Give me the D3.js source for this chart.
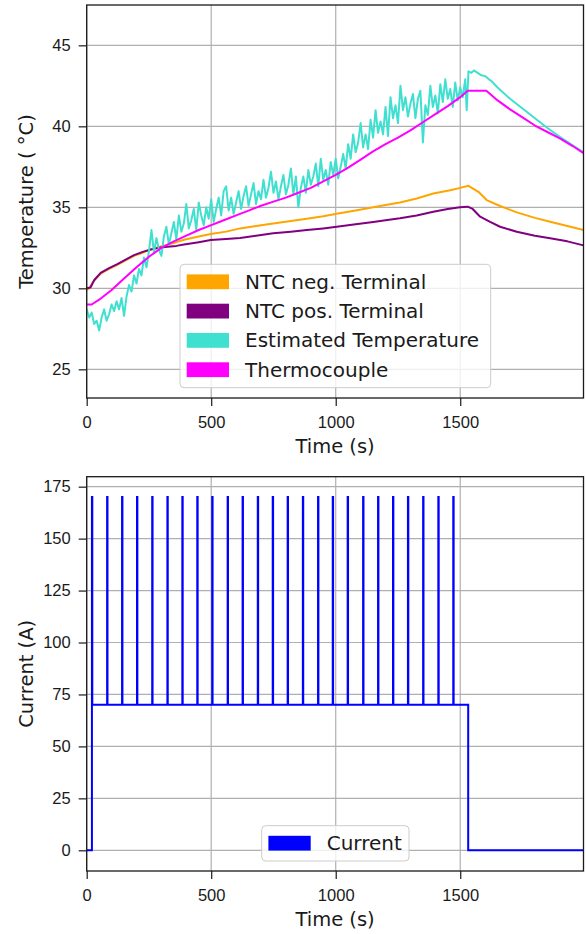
<!DOCTYPE html>
<html>
<head>
<meta charset="utf-8">
<script src="https://cdn.jsdelivr.net/npm/d3@7"></script>
<style>
body { margin: 0; background: #fff; }
svg { display: block; font-family: "DejaVu Sans", sans-serif; }
</style>
</head>
<body>
<div id="chart"></div>
<script>
// ---------- data ----------
const timeTicks = [0, 500, 1000, 1500];
const tempTicks = [25, 30, 35, 40, 45];
const currentTicks = [0, 25, 50, 75, 100, 125, 150, 175];

// [time (s), temperature (°C)]
const ntcNeg = [[0,29.9],[10,30.0],[30,30.5],[56,30.9],[90,31.2],[123,31.45],[160,31.75],[190,32.0],[225,32.2],[257,32.4],
  [290,32.55],[324,32.7],[360,32.85],[391,33.0],[450,33.2],[498,33.35],[560,33.5],[616,33.7],[680,33.85],[749,34.0],
  [820,34.15],[884,34.3],[950,34.45],[1004,34.6],[1080,34.8],[1151,35.0],[1200,35.15],[1258,35.3],[1325,35.55],
  [1392,35.85],[1460,36.05],[1500,36.2],[1533,36.33],[1573,35.96],[1606,35.45],[1660,35.08],[1727,34.69],
  [1800,34.35],[1861,34.11],[1930,33.85],[1995,33.6]];

const ntcPos = [[0,30.0],[15,30.05],[30,30.5],[56,30.95],[90,31.25],[123,31.5],[160,31.8],[190,32.05],[225,32.25],[257,32.4],
  [290,32.5],[324,32.57],[360,32.62],[391,32.7],[450,32.85],[498,32.98],[560,33.05],[616,33.1],[680,33.25],[749,33.4],
  [820,33.5],[884,33.6],[950,33.7],[1004,33.8],[1080,33.95],[1151,34.1],[1200,34.2],[1258,34.32],[1325,34.5],
  [1392,34.73],[1450,34.9],[1499,35.0],[1530,35.04],[1550,34.9],[1580,34.42],[1620,34.1],[1660,33.8],[1727,33.49],
  [1800,33.25],[1861,33.09],[1930,32.9],[1995,32.65]];

const estimated = [[0,28.7],[10,28.2],[20,28.5],[30,27.8],[40,28.0],[50,27.4],[60,28.2],[70,28.7],[80,28.0],[90,28.4],
  [100,29.0],[110,28.6],[120,29.2],[130,28.7],[140,29.4],[150,28.3],[160,29.5],[170,30.2],[180,29.8],[190,30.8],
  [200,30.3],[210,31.2],[220,30.8],[230,31.9],[240,31.3],[250,32.3],[260,33.6],[270,32.2],[280,33.1],[290,32.4],
  [300,32.0],[310,33.2],[320,33.8],[330,32.7],[340,33.4],[350,34.1],[360,33.0],[370,34.5],[380,33.5],[390,34.0],
  [400,35.2],[410,33.7],[420,34.2],[430,34.9],[440,33.6],[450,35.3],[460,34.5],[470,33.9],[480,35.0],[490,34.3],
  [500,35.5],[510,34.1],[520,34.9],[530,35.6],[540,34.5],[550,36.0],[560,36.3],[570,34.8],[580,35.6],[590,34.6],
  [600,35.3],[610,36.0],[620,34.9],[630,35.7],[640,36.3],[650,35.1],[660,35.8],[670,36.5],[680,35.2],[690,36.0],
  [700,35.5],[710,36.7],[720,35.6],[730,36.2],[740,37.2],[750,35.9],[760,36.6],[770,35.5],[780,36.3],[790,37.0],
  [800,35.8],[810,36.4],[820,37.4],[830,35.8],[840,36.9],[850,35.0],[860,36.2],[870,36.9],[880,35.9],[890,37.3],
  [900,36.4],[910,36.9],[920,37.7],[930,36.3],[940,38.0],[950,36.7],[960,37.3],[970,36.4],[980,37.8],[990,37.0],
  [1000,38.0],[1010,36.8],[1020,37.5],[1030,38.3],[1040,37.4],[1050,38.9],[1060,38.0],[1070,39.5],[1080,38.4],[1090,39.0],
  [1100,40.2],[1110,38.7],[1120,39.5],[1130,38.6],[1140,40.4],[1150,39.3],[1160,41.0],[1170,39.6],[1180,40.3],[1190,39.5],
  [1200,41.2],[1210,39.4],[1220,41.8],[1230,40.5],[1240,41.3],[1250,40.2],[1260,42.5],[1270,41.0],[1280,41.8],[1290,40.6],
  [1300,41.4],[1310,42.0],[1320,40.5],[1330,41.7],[1340,42.2],[1350,39.0],[1360,41.3],[1370,40.7],[1380,42.5],[1390,41.2],
  [1400,41.9],[1410,40.8],[1420,42.6],[1430,41.5],[1440,42.9],[1450,41.7],[1460,42.3],[1470,41.2],[1480,42.7],[1490,41.6],
  [1500,42.4],[1510,41.8],[1520,42.9],[1526,41.0],[1533,43.4],[1545,43.3],[1555,43.45],[1570,43.3],[1585,43.15],
  [1600,43.1],[1615,42.9],[1625,42.8],[1650,42.4],[1700,41.7],[1750,41.1],[1800,40.5],[1850,39.9],[1900,39.35],
  [1950,38.85],[1995,38.4]];

const thermocouple = [[0,29.0],[20,29.0],[50,29.3],[100,29.9],[150,30.6],[200,31.3],[250,31.95],[300,32.5],[350,32.9],
  [400,33.25],[450,33.6],[500,33.9],[550,34.2],[600,34.5],[650,34.8],[700,35.1],[750,35.35],[800,35.6],[850,35.9],
  [900,36.2],[950,36.6],[1000,37.0],[1050,37.45],[1100,37.95],[1150,38.45],[1200,38.9],[1250,39.3],[1300,39.75],
  [1350,40.25],[1400,40.75],[1450,41.25],[1500,41.8],[1530,42.2],[1605,42.2],[1650,41.6],[1700,41.05],[1750,40.55],
  [1800,40.05],[1850,39.65],[1900,39.25],[1950,38.8],[1995,38.35]];

// current profile: 70 A base with 170 A pulses
const currentStart = 21, currentStop = 1532, timeEnd = 1995;
const baseCurrent = 70, pulseCurrent = 170, pulseWidth = 1.5;
const pulseTimes = [21, 82, 142, 202, 263, 324, 384, 444, 504, 566, 626, 687, 747, 807, 868,
  929, 988, 1048, 1110, 1170, 1230, 1290, 1351, 1412, 1472];

const tempSeries = [
  {name: "NTC neg. Terminal", color: "#ffa500", values: ntcNeg},
  {name: "NTC pos. Terminal", color: "#800080", values: ntcPos},
  {name: "Estimated Temperature", color: "#40e0d0", values: estimated},
  {name: "Thermocouple", color: "#ff00ff", values: thermocouple}
];

const currentData = [[0, 0], [currentStart, 0]];
pulseTimes.forEach(p => {
  currentData.push([p, baseCurrent], [p, pulseCurrent], [p + pulseWidth, pulseCurrent], [p + pulseWidth, baseCurrent]);
});
currentData.push([currentStop, baseCurrent], [currentStop, 0], [timeEnd, 0]);

// ---------- drawing ----------
const svg = d3.select("#chart").append("svg")
  .attr("width", 586)
  .attr("height", 934);

const ink = "#1a1a1a";

function panel({id, top, bottom, left, right, xDomain, yDomain, xTicks, yTicks, yLabel}) {
  const x = d3.scaleLinear().domain(xDomain).range([left, right]);
  const y = d3.scaleLinear().domain(yDomain).range([bottom, top]);
  const g = svg.append("g");

  g.append("clipPath").attr("id", id)
    .append("rect")
    .attr("x", left).attr("y", top)
    .attr("width", right - left).attr("height", bottom - top);

  // grid
  g.append("g").selectAll("line").data(xTicks).join("line")
    .attr("x1", d => x(d)).attr("x2", d => x(d))
    .attr("y1", top).attr("y2", bottom)
    .attr("stroke", "#b0b0b0").attr("stroke-width", 1.2);
  g.append("g").selectAll("line").data(yTicks).join("line")
    .attr("x1", left).attr("x2", right)
    .attr("y1", d => y(d)).attr("y2", d => y(d))
    .attr("stroke", "#b0b0b0").attr("stroke-width", 1.2);

  const styleAxis = a => {
    a.select(".domain").remove();
    a.selectAll(".tick line").attr("stroke", ink).attr("stroke-width", 1.2);
    a.selectAll(".tick text").attr("fill", ink).style("font-size", "16.5px");
  };

  g.append("g")
    .attr("transform", `translate(0,${bottom})`)
    .call(d3.axisBottom(x).tickValues(xTicks).tickFormat(d3.format("d")).tickSize(8).tickPadding(10))
    .call(styleAxis);

  g.append("g")
    .attr("transform", `translate(${left},0)`)
    .call(d3.axisLeft(y).tickValues(yTicks).tickFormat(d3.format("d")).tickSize(8).tickPadding(8))
    .call(styleAxis);

  g.append("text")
    .attr("x", (left + right) / 2)
    .attr("y", bottom + 55)
    .attr("text-anchor", "middle")
    .attr("fill", ink)
    .style("font-size", "19.5px")
    .text("Time (s)");

  g.append("text")
    .attr("transform", `translate(33,${(top + bottom) / 2}) rotate(-90)`)
    .attr("text-anchor", "middle")
    .attr("fill", ink)
    .style("font-size", "19.5px")
    .text(yLabel);

  const plot = g.append("g").attr("clip-path", `url(#${id})`);

  return {g, plot, x, y, top, bottom, left, right};
}

function frame(p) {
  p.g.append("rect")
    .attr("x", p.left).attr("y", p.top)
    .attr("width", p.right - p.left).attr("height", p.bottom - p.top)
    .attr("fill", "none").attr("stroke", ink).attr("stroke-width", 1.3);
}

function legend(p, items, bx, by, bw, bh) {
  const lg = p.g.append("g");
  lg.append("rect")
    .attr("x", bx).attr("y", by).attr("width", bw).attr("height", bh)
    .attr("rx", 4)
    .attr("fill", "#fff").attr("fill-opacity", 0.8)
    .attr("stroke", "#cccccc").attr("stroke-width", 1);
  items.forEach((d, i) => {
    const cy = by + 17.5 + i * 29.3;
    lg.append("rect")
      .attr("x", bx + 6.7).attr("y", cy - 7.4)
      .attr("width", 42.3).attr("height", 14.8)
      .attr("fill", d.color);
    lg.append("text")
      .attr("x", bx + 65).attr("y", cy + 7)
      .attr("fill", ink)
      .style("font-size", "20px")
      .text(d.name);
  });
}

// temperature panel
const tempPanel = panel({
  id: "clip-temp", top: 5, bottom: 398, left: 86.7, right: 583.5,
  xDomain: [0, 1995], yDomain: [23.23, 47.49],
  xTicks: timeTicks, yTicks: tempTicks, yLabel: "Temperature ( °C)"
});

const tempLine = d3.line().x(d => tempPanel.x(d[0])).y(d => tempPanel.y(d[1]));

tempPanel.plot.selectAll("path.series").data(tempSeries).join("path")
  .attr("class", "series")
  .attr("d", d => tempLine(d.values))
  .attr("fill", "none")
  .attr("stroke", d => d.color)
  .attr("stroke-width", 2)
  .attr("stroke-linejoin", "round");

frame(tempPanel);
legend(tempPanel, tempSeries, 180, 264.3, 310.7, 123.4);

// current panel
const curPanel = panel({
  id: "clip-cur", top: 476.7, bottom: 871, left: 86.7, right: 583.5,
  xDomain: [0, 1995], yDomain: [-9.96, 179.8],
  xTicks: timeTicks, yTicks: currentTicks, yLabel: "Current (A)"
});

const curLine = d3.line().x(d => curPanel.x(d[0])).y(d => curPanel.y(d[1]));

curPanel.plot.append("path")
  .datum(currentData)
  .attr("d", curLine)
  .attr("fill", "none")
  .attr("stroke", "#0000ff")
  .attr("stroke-width", 2);

frame(curPanel);
legend(curPanel, [{name: "Current", color: "#0000ff"}], 261.7, 825.7, 147.3, 35.3);
</script>
</body>
</html>
